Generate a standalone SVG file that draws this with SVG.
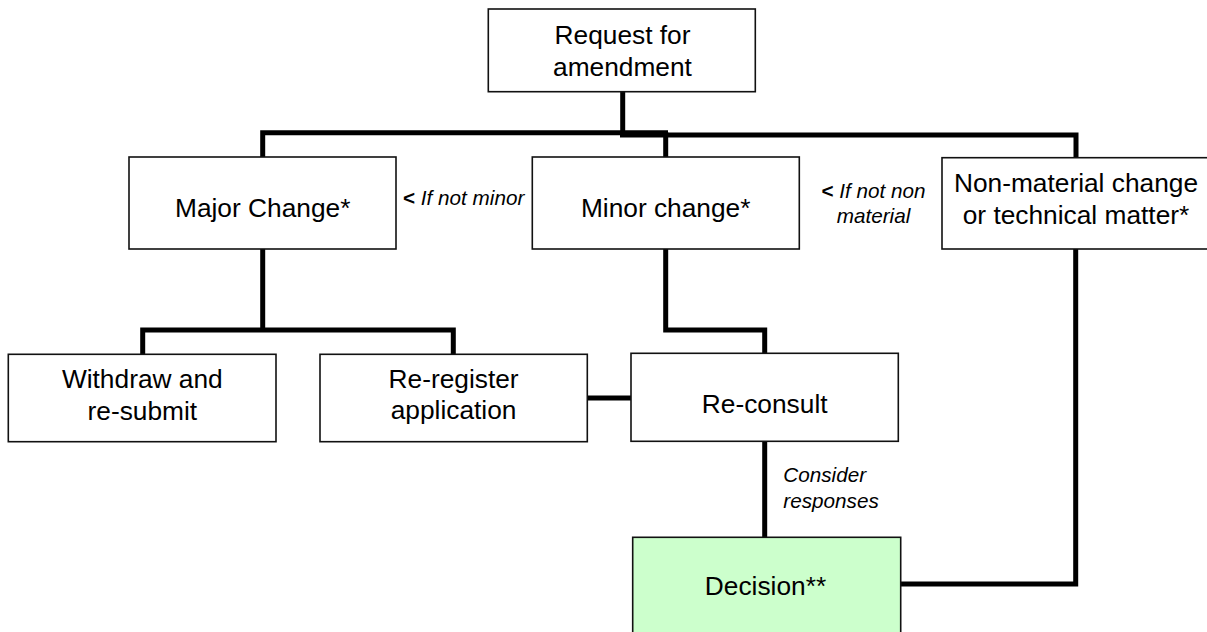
<svg xmlns="http://www.w3.org/2000/svg" width="1207" height="632" viewBox="0 0 1207 632">
<style>
.box{fill:#fff;stroke:#111;stroke-width:1.6}
.dec{fill:#ccffcc;stroke:#111;stroke-width:1.6}
.t{font-family:"Liberation Sans",Arial,sans-serif;font-size:26.3px;fill:#000;text-anchor:middle}
.lbl{font-family:"Liberation Sans",Arial,sans-serif;font-size:20.7px;font-style:italic;fill:#000}
.lt{font-weight:bold;font-style:normal}
.conn{fill:none;stroke:#000;stroke-width:5;stroke-linejoin:miter}
</style>
<rect width="1207" height="632" fill="#fff"/>
<g id="connectors">
<path class="conn" d="M622.7 92 V135"/>
<path class="conn" d="M262.7 157 V132.7 H668"/>
<path class="conn" d="M665.7 132 V157"/>
<path class="conn" d="M620 135 H1076 V158"/>
<path class="conn" d="M262.7 249 V330"/>
<path class="conn" d="M142.7 354 V330 H453.3 V354"/>
<path class="conn" d="M665.7 249 V330 H764.7 V353"/>
<path class="conn" d="M587 398 H631"/>
<path class="conn" d="M764.7 441 V537"/>
<path class="conn" d="M1075.7 249 V584 H901"/>
</g>
<g id="request">
<rect class="box" x="488.3" y="9" width="267" height="82.7"/>
<text class="t" x="622.5" y="44">Request for</text>
<text class="t" x="622.5" y="76">amendment</text>
</g>
<g id="major">
<rect class="box" x="129" y="157" width="267" height="92"/>
<text class="t" x="262.7" y="217">Major Change*</text>
</g>
<g id="minor">
<rect class="box" x="532.3" y="157" width="267" height="92"/>
<text class="t" x="665.7" y="217">Minor change*</text>
</g>
<g id="nonmaterial">
<rect class="box" x="942" y="157.7" width="275" height="91.3"/>
<text class="t" x="1076" y="192">Non-material change</text>
<text class="t" x="1076" y="224">or technical matter*</text>
</g>
<g id="withdraw">
<rect class="box" x="8.3" y="354.3" width="267.7" height="87.4"/>
<text class="t" x="142.3" y="388.3">Withdraw and</text>
<text class="t" x="142.3" y="420">re-submit</text>
</g>
<g id="reregister">
<rect class="box" x="320" y="354.3" width="267.3" height="87.4"/>
<text class="t" x="453.6" y="387.7">Re-register</text>
<text class="t" x="453.6" y="419.3">application</text>
</g>
<g id="reconsult">
<rect class="box" x="631" y="353.3" width="267.3" height="88"/>
<text class="t" x="764.7" y="412.7">Re-consult</text>
</g>
<g id="decision">
<rect class="dec" x="632.7" y="537.3" width="268" height="110"/>
<text class="t" x="765.5" y="595">Decision**</text>
</g>
<g id="labels">
<text class="lbl" x="403" y="205"><tspan class="lt">&lt;</tspan> If not minor</text>
<text class="lbl" x="873.5" y="198" text-anchor="middle"><tspan class="lt">&lt;</tspan> If not non</text>
<text class="lbl" x="873.5" y="223.3" text-anchor="middle">material</text>
<text class="lbl" x="783.3" y="481.7">Consider</text>
<text class="lbl" x="783.3" y="508.3">responses</text>
</g>
</svg>
